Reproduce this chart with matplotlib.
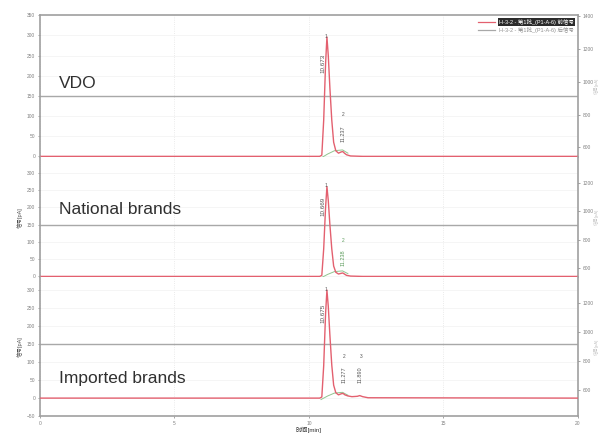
import matplotlib
matplotlib.use("Agg")
import matplotlib.pyplot as plt
from matplotlib.lines import Line2D

plt.rcParams['font.family'] = ['Liberation Sans', 'Noto Sans CJK SC', 'DejaVu Sans']

# ------------------------------------------------------------------
# FID traces (front detector), retention time in min, signal in pA
# ------------------------------------------------------------------
panel_names = ["VDO", "National brands", "Imported brands"]

vdo_time = [0, 10.40, 10.48, 10.55, 10.62, 10.67, 10.72, 10.78, 10.85, 10.92,
            11.00, 11.10, 11.20, 11.26, 11.32, 11.40, 11.55, 12.0, 20.0]
vdo_signal = [0, 0, 3, 90, 230, 296, 250, 170, 90, 35,
              14, 8, 11, 12, 8, 4, 1, 0, 0]

national_time = [0, 10.40, 10.48, 10.55, 10.62, 10.67, 10.72, 10.78, 10.85, 10.92,
                 11.00, 11.10, 11.20, 11.26, 11.32, 11.40, 11.55, 12.0, 20.0]
national_signal = [0, 0, 3, 80, 200, 260, 220, 150, 80, 30,
                   12, 7, 9, 10, 7, 3, 1, 0, 0]

imported_time = [0, 10.40, 10.48, 10.55, 10.62, 10.67, 10.72, 10.78, 10.85, 10.92,
                 11.00, 11.10, 11.20, 11.27, 11.34, 11.45, 11.60, 11.80, 11.89,
                 12.00, 12.20, 20.0]
imported_signal = [0, 0, 3, 90, 235, 300, 255, 175, 92, 36,
                   15, 9, 12, 13, 9, 6, 4, 5, 7, 4, 1, 0]

# back detector stays flat over the run
back_level = 150

# integration baseline drawn under the main peak
base_time = [10.45, 10.70, 10.95, 11.25, 11.45]
base_signal = [-4, 6, 14, 16, 8]

# integrated peaks (retention times)
vdo_peaks = [10.673, 11.237]
national_peaks = [10.669, 11.238]
imported_peaks = [10.675, 11.277, 11.890]

traces = [(vdo_time, vdo_signal, vdo_peaks),
          (national_time, national_signal, national_peaks),
          (imported_time, imported_signal, imported_peaks)]

left_lims = [(-2, 350), (-2, 345), (-50, 336)]
left_ticks = [range(0, 351, 50), range(0, 301, 50), range(-50, 301, 50)]
right_lims = [(540, 1406), (537, 1383), (421, 1379)]
right_ticks = [range(600, 1401, 200), range(600, 1201, 200), range(600, 1201, 200)]

legend_labels = ["H-3-2 - 第1批_(P1-A-6) 前信号", "H-3-2 - 第1批_(P1-A-6) 后信号"]

RED = "#e3606f"
GRAY = "#a8a8a8"
GREEN = "#8fc58f"
SPINE = "#a0a0a0"
TICK = "#808080"

fig = plt.figure(figsize=(6.0, 4.33), dpi=100)
bounds = [(0.637, 0.965), (0.360, 0.637), (0.039, 0.360)]
left, right = 0.0667, 0.963

for i, ((t, s, peaks), (y0, y1)) in enumerate(zip(traces, bounds)):
    ax = fig.add_axes([left, y0, right - left, y1 - y0])
    ax.plot(t, s, color=RED, lw=1.0, zorder=3)
    ax.axhline(back_level, color=GRAY, lw=1.0, zorder=2)
    ax.plot(base_time, base_signal, color=GREEN, lw=0.7, zorder=2)
    ax.set_xlim(0, 20)
    ax.set_ylim(*left_lims[i])
    ax.set_yticks(list(left_ticks[i]))
    ax.set_xticks([0, 5, 10, 15, 20])
    ax.grid(True, axis="x", color="#e4e4e4", lw=0.6, ls=":")
    ax.grid(True, axis="y", color="#f2f2f2", lw=0.5)
    ax.tick_params(labelsize=3.5, colors=TICK, length=1.5, width=0.5, pad=2)

    for side in ["left", "right", "top", "bottom"]:
        ax.spines[side].set_color(SPINE)
        ax.spines[side].set_linewidth(1.2)
    if i > 0:
        ax.spines["top"].set_visible(False)
    if i < 2:
        ax.spines["bottom"].set_visible(False)
        ax.tick_params(axis="x", bottom=False, labelbottom=False)
    else:
        ax.set_xlabel("时间[min]", fontsize=4.5, color="#303030", labelpad=0.5)

    if i > 0:
        ax.set_ylabel("信号[pA]", fontsize=4, color="#505050", labelpad=3)

    # peak retention-time annotations
    top = max(s)
    ax.text(peaks[0] - 0.14, top * 0.78, f"{peaks[0]:.3f}", rotation=90,
            fontsize=4.5, color="#555555", ha="center", va="center", zorder=4)
    ax.text(peaks[0] - 0.05, top * 0.98, "1", fontsize=3.5, color="#555555",
            ha="center", va="bottom", zorder=4)
    for j, pt in enumerate(peaks[1:], start=2):
        col = "#5a9a5a" if i == 1 else "#555555"
        ax.text(pt + 0.02, 55 if i < 2 else 65, f"{pt:.3f}", rotation=90,
                fontsize=4, color=col, ha="center", va="center", zorder=4)
        ax.text(pt + 0.05, 105 if i < 2 else 115, str(j), fontsize=3.5,
                color=col, ha="center", va="center", zorder=4)

    ax.text(0.036, [0.52, 0.565, 0.27][i], panel_names[i], transform=ax.transAxes,
            fontsize=12.5, color="#303030", ha="left", va="center")

    ax2 = ax.twinx()
    ax2.set_ylim(*right_lims[i])
    ax2.set_yticks(list(right_ticks[i]))
    ax2.tick_params(labelsize=3.5, colors=TICK, length=1.5, width=0.5, pad=2)
    for side in ["left", "right", "top", "bottom"]:
        ax2.spines[side].set_visible(False)
    ax2.set_ylabel("信号[pA]", fontsize=3.2, color="#c8c8c8", labelpad=0.5)

    if i == 0:
        handles = [Line2D([], [], color=RED, lw=0.9), Line2D([], [], color=GRAY, lw=0.9)]
        leg = ax.legend(handles, legend_labels, loc="upper right", fontsize=4,
                        frameon=False, handlelength=3, borderaxespad=0.3,
                        labelspacing=0.4, handletextpad=0.8)
        t0, t1 = leg.get_texts()
        t0.set_color("white")
        t0.set_bbox(dict(facecolor="#2b2b2b", edgecolor="none", pad=0.6))
        t1.set_color("#909090")

fig.savefig("out.png", dpi=100)
